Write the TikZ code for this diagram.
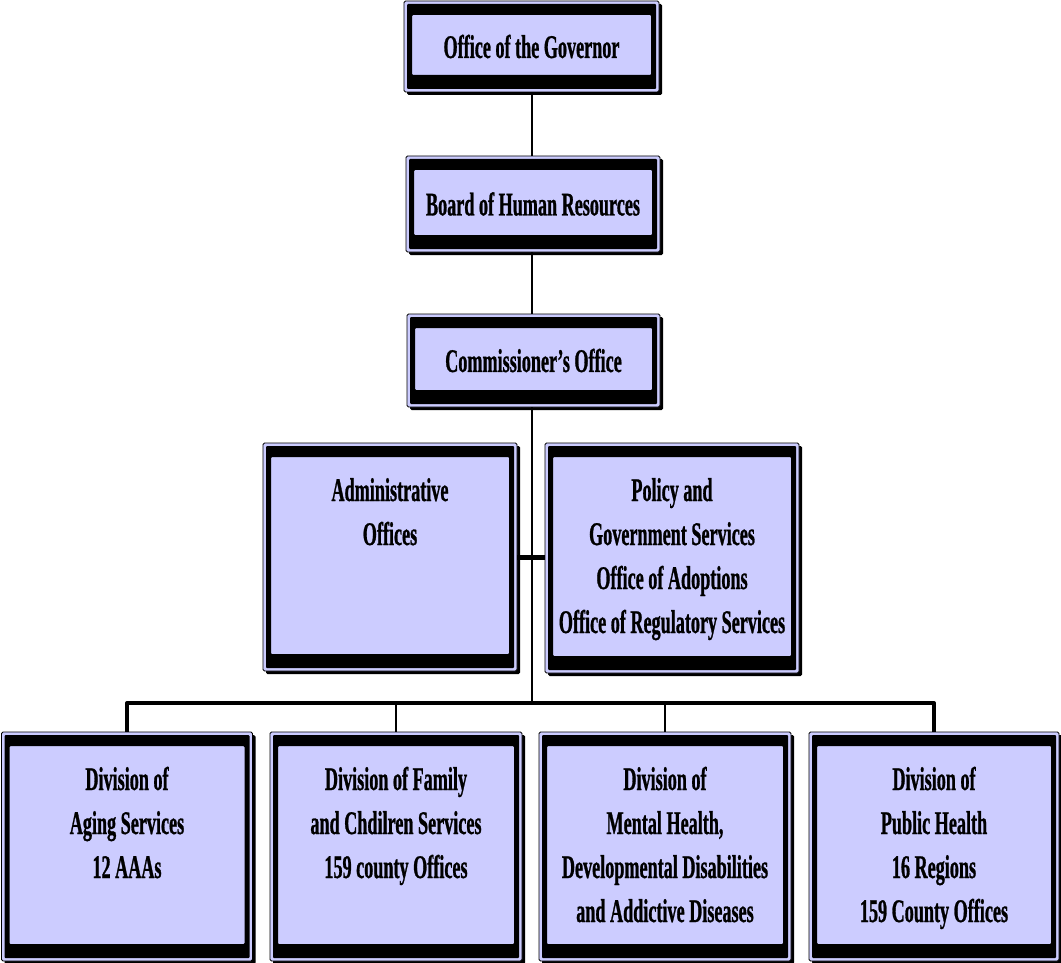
\documentclass[tikz,border=0pt]{standalone}
\usepackage{fontspec}
\setmainfont{Liberation Serif}[FakeStretch=0.55, BoldFeatures={FakeBold=0.8}]
\usetikzlibrary{shadows}
\definecolor{lav}{RGB}{204,204,255}
\newcommand\orgtext[3]{\parbox[c][#2][t]{#1}{\centering\rule{0pt}{58pt}#3}}
\begin{document}
\begin{tikzpicture}[x=1pt,y=-1pt,
  orgbox/.style={draw=black, line width=0.8pt, fill=lav, inner sep=0pt, rounded corners=1.5pt,
    drop shadow={shadow xshift=3pt, shadow yshift=-3pt, fill=black, opacity=1},
    font=\bfseries\fontsize{33}{44}\selectfont, align=center,
    path picture={\fill[black,even odd rule,rounded corners=1pt]
      ([shift={(3pt,-3pt)}]path picture bounding box.north west) rectangle
      ([shift={(-3pt,3pt)}]path picture bounding box.south east)
      ([shift={(8pt,-14pt)}]path picture bounding box.north west) rectangle
      ([shift={(-8pt,17pt)}]path picture bounding box.south east);}},
  link/.style={draw=black, line width=2pt},
  bus/.style={draw=black, line width=4pt, line join=round},
  stub/.style={draw=black, line width=5pt}]
\useasboundingbox (0,0) rectangle (1061,963);

\node[orgbox, minimum width=255pt, minimum height=91pt] (gov) at (531.5,46.5) {Office of the Governor};
\node[orgbox, minimum width=254pt, minimum height=96pt] (board) at (533,204) {Board of Human Resources};
\node[orgbox, minimum width=253pt, minimum height=93pt] (comm) at (533.5,360.5) {Commissioner’s Office};

\node[orgbox, minimum width=254pt, minimum height=228pt] (admin) at (390,557)
  {\orgtext{254pt}{228pt}{Administrative\\Offices}};
\node[orgbox, minimum width=254pt, minimum height=230pt] (policy) at (672,558)
  {\orgtext{254pt}{230pt}{Policy and\\Government Services\\Office of Adoptions\\Office of Regulatory Services}};

\node[orgbox, minimum width=251pt, minimum height=229pt] (aging) at (127,846.5)
  {\orgtext{251pt}{229pt}{Division of\\Aging Services\\12 AAAs}};
\node[orgbox, minimum width=252pt, minimum height=229pt] (family) at (396,846.5)
  {\orgtext{252pt}{229pt}{Division of Family\\and Chdilren Services\\159 county Offices}};
\node[orgbox, minimum width=252pt, minimum height=229pt] (mental) at (665,846.5)
  {\orgtext{252pt}{229pt}{Division of\\Mental Health,\\Developmental Disabilities\\and Addictive Diseases}};
\node[orgbox, minimum width=250pt, minimum height=229pt] (public) at (934,846.5)
  {\orgtext{250pt}{229pt}{Division of\\Public Health\\16 Regions\\159 County Offices}};

\coordinate (busmid) at (532,703);

\draw[link] (gov.south -| busmid) -- (board.north -| busmid);
\draw[link] (board.south -| busmid) -- (comm.north -| busmid);
\draw[link] (comm.south -| busmid) -- (busmid);
\draw[stub] (admin.east) -- (admin.east -| policy.west);
\draw[bus] (aging.north) -- (aging.north |- busmid) -- (public.north |- busmid) -- (public.north);
\draw[link] (family.north) -- (family.north |- busmid);
\draw[link] (mental.north) -- (mental.north |- busmid);
\end{tikzpicture}
\end{document}
